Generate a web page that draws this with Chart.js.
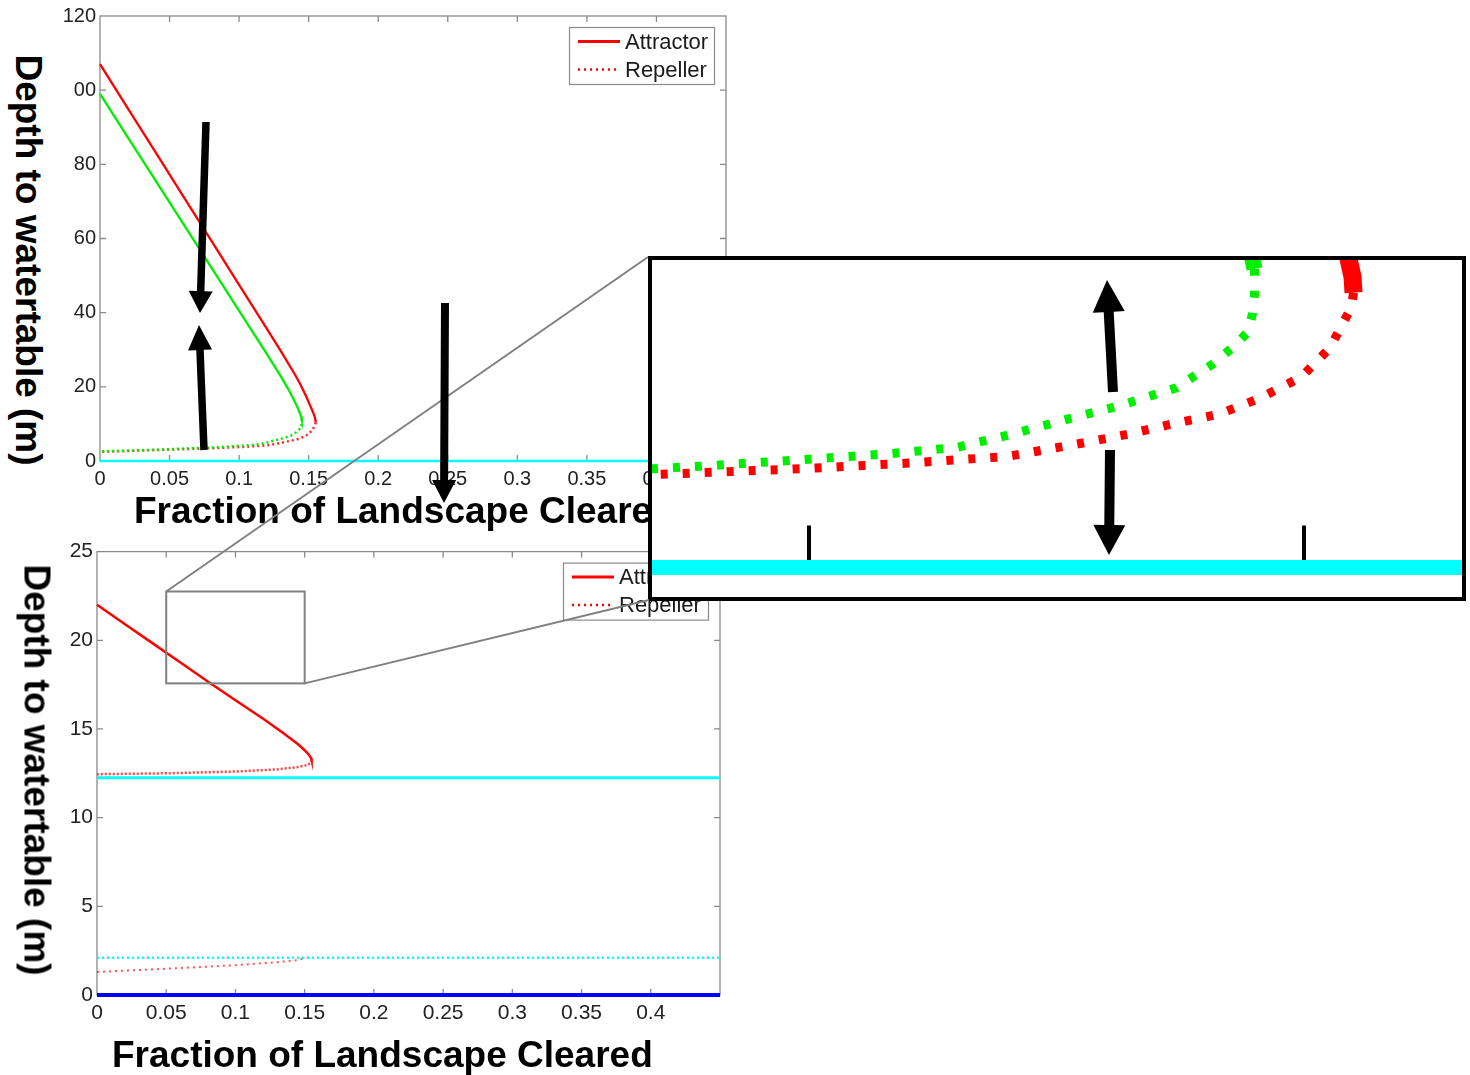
<!DOCTYPE html>
<html>
<head>
<meta charset="utf-8">
<script src="https://cdn.jsdelivr.net/npm/chart.js@4.4.1/dist/chart.umd.min.js"></script>
<style>
html,body{margin:0;padding:0;background:#fff;}
body{width:1470px;height:1075px;overflow:hidden;position:relative;font-family:"Liberation Sans",Arial,sans-serif;}
.abs{position:absolute;}
canvas{display:block;}
.title{font-weight:bold;font-size:37px;line-height:48px;white-space:nowrap;color:#000;}
.ytitle{line-height:37px;transform:translate(-50%,-50%) rotate(90deg);}
.mask{background:#fff;}
#inset{left:648px;top:256px;width:818px;height:345px;box-sizing:border-box;border:4px solid #000;background:#fff;z-index:9;}
</style>
</head>
<body>
<canvas id="topChart" class="abs" width="740" height="500" style="left:0;top:0;z-index:1"></canvas>
<div class="abs mask" style="left:0;top:45px;width:73px;height:425px;z-index:2"></div>
<div class="abs title ytitle" style="left:28px;top:260px;z-index:3">Depth to watertable (m)</div>
<div class="abs mask" style="left:88px;top:486px;width:640px;height:48px;z-index:2"></div>
<div class="abs title" style="left:134px;top:487px;z-index:3">Fraction of Landscape Cleared</div>

<canvas id="botChart" class="abs" width="740" height="500" style="left:0;top:535px;z-index:4"></canvas>
<div class="abs title ytitle" style="left:37px;top:770px;z-index:5">Depth to watertable (m)</div>
<div class="abs title" style="left:112px;top:1031px;z-index:5">Fraction of Landscape Cleared</div>

<div id="inset" class="abs"><canvas id="insetChart" width="810" height="337"></canvas></div>
<canvas id="overlay" class="abs" width="1470" height="1075" style="left:0;top:0;z-index:10;pointer-events:none"></canvas>

<script>
// ---------- tick labels / legend text ----------
const xTickLabels = ['0','0.05','0.1','0.15','0.2','0.25','0.3','0.35','0.4',''];
const topYTickLabels = ['0','20','40','60','80','100','120'];
const botYTickLabels = ['0','5','10','15','20','25'];
const legendLabels = ['Attractor','Repeller'];

// ---------- top panel data ----------
const topRedAttrX = [0, 0.02, 0.04, 0.06, 0.08, 0.10, 0.12, 0.13, 0.14, 0.144, 0.148, 0.151, 0.153, 0.1543, 0.1549, 0.155];
const topRedAttrY = [107, 95.1, 83.2, 71.3, 59.4, 47.5, 35.6, 29.6, 23.4, 20.7, 17.6, 15.0, 13.3, 12.0, 11.0, 10.4];
const topRedRepX = [0.155, 0.1548, 0.1526, 0.1497, 0.1455, 0.1414, 0.1369, 0.1323, 0.1275, 0.12, 0.11, 0.10, 0.08, 0.06, 0.04, 0.02, 0];
const topRedRepY = [10.4, 9.85, 8.3, 7.2, 6.4, 5.8, 5.45, 5.05, 4.7, 4.2, 3.95, 3.75, 3.45, 3.2, 2.95, 2.7, 2.5];
const topGreenAttrX = [0, 0.02, 0.04, 0.06, 0.08, 0.10, 0.12, 0.13, 0.135, 0.139, 0.1418, 0.1436, 0.1446, 0.145];
const topGreenAttrY = [99, 87.3, 75.6, 63.9, 52.2, 40.5, 28.8, 22.8, 19.6, 16.8, 14.6, 13.0, 12.0, 11.3];
const topGreenRepX = [0.145, 0.145, 0.1448, 0.1443, 0.143, 0.1408, 0.1371, 0.1312, 0.127, 0.12, 0.115, 0.108, 0.10, 0.09, 0.08, 0.06, 0.04, 0.02, 0];
const topGreenRepY = [11.3, 10.3, 9.6, 8.9, 8.4, 7.7, 6.8, 6.1, 5.7, 5.0, 4.55, 4.3, 4.1, 3.85, 3.65, 3.35, 3.05, 2.8, 2.6];
const fullX = [0, 0.45];
const topCyanY = [0, 0];

// ---------- bottom panel data ----------
const botRedAttrX = [0, 0.02, 0.04, 0.06, 0.08, 0.10, 0.12, 0.135, 0.145, 0.15, 0.153, 0.1547, 0.155];
const botRedAttrY = [22, 20.92, 19.84, 18.76, 17.68, 16.62, 15.58, 14.75, 14.15, 13.8, 13.55, 13.35, 13.25];
const botRedRepX = [0.155, 0.1545, 0.152, 0.145, 0.13, 0.10, 0.05, 0];
const botRedRepY = [13.25, 13.1, 12.97, 12.85, 12.72, 12.6, 12.5, 12.45];
const botCyanSolidY = [12.25, 12.25];
const botCyanDotY = [2.1, 2.1];
const botRedLowX = [0, 0.05, 0.10, 0.13, 0.145, 0.15];
const botRedLowY = [1.3, 1.48, 1.68, 1.85, 1.97, 2.08];
const botBlueY = [0, 0];

// zoom window (data units of the bottom panel) and inset view (data units of the top panel)
const zoomBoxX = [0.05, 0.15];
const zoomBoxY = [17.57, 22.75];
const insetXRange = [0.08414, 0.16596];
const insetYRange = [-1.116, 11.635];
const insetTickValues = [0.1, 0.15];

// ---------- helpers ----------
const zip = (xs, ys) => xs.map((x, i) => ({x: x, y: ys[i]}));
const FONT = '"Liberation Sans", Arial, sans-serif';
const RED = '#ff0000', GREEN = '#00ee00', CYAN = '#00ffff', BLUE = '#0000ff';

const frameTicks = {
  id: 'frameTicks',
  beforeDatasetsDraw(chart) {
    const {ctx, chartArea: a} = chart;
    const x = chart.scales.x, y = chart.scales.y;
    ctx.save();
    ctx.strokeStyle = '#8a8a8a';
    ctx.lineWidth = 1.3;
    ctx.strokeRect(a.left, a.top, a.right - a.left, a.bottom - a.top);
    const L = 6;
    ctx.beginPath();
    x.ticks.forEach(t => {
      const p = x.getPixelForValue(t.value);
      if (p <= a.left + 1 || p >= a.right - 1) return;
      ctx.moveTo(p, a.bottom); ctx.lineTo(p, a.bottom - L);
      ctx.moveTo(p, a.top); ctx.lineTo(p, a.top + L);
    });
    y.ticks.forEach(t => {
      const p = y.getPixelForValue(t.value);
      if (p <= a.top + 1 || p >= a.bottom - 1) return;
      ctx.moveTo(a.left, p); ctx.lineTo(a.left + L, p);
      ctx.moveTo(a.right, p); ctx.lineTo(a.right - L, p);
    });
    ctx.stroke();
    ctx.restore();
  }
};

const boxLegend = {
  id: 'boxLegend',
  afterDraw(chart) {
    const {ctx, chartArea: a} = chart;
    const w = 145, h = 57;
    const left = a.right - 12 - w, top = a.top + 11;
    ctx.save();
    ctx.fillStyle = '#fff';
    ctx.fillRect(left, top, w, h);
    ctx.strokeStyle = '#8a8a8a';
    ctx.lineWidth = 1.2;
    ctx.strokeRect(left + 0.5, top + 0.5, w, h);
    ctx.font = '22px ' + FONT;
    ctx.textBaseline = 'middle';
    ctx.fillStyle = '#1a1a1a';
    legendLabels.forEach((lab, i) => {
      const yy = top + 14.5 + i * 28;
      ctx.beginPath();
      ctx.strokeStyle = RED;
      ctx.lineWidth = i === 0 ? 3 : 2.5;
      ctx.setLineDash(i === 0 ? [] : [2, 4]);
      ctx.moveTo(left + 9, yy); ctx.lineTo(left + 51, yy);
      ctx.stroke();
      ctx.setLineDash([]);
      ctx.fillText(lab, left + 56, yy + 1);
    });
    ctx.restore();
  }
};

const zoomBox = {
  id: 'zoomBox',
  afterDatasetsDraw(chart) {
    const {ctx} = chart;
    const x = chart.scales.x, y = chart.scales.y;
    const x0 = x.getPixelForValue(zoomBoxX[0]), x1 = x.getPixelForValue(zoomBoxX[1]);
    const y0 = y.getPixelForValue(zoomBoxY[1]), y1 = y.getPixelForValue(zoomBoxY[0]);
    ctx.save();
    ctx.strokeStyle = '#808080';
    ctx.lineWidth = 2;
    ctx.strokeRect(x0, y0, x1 - x0, y1 - y0);
    ctx.restore();
  }
};

const insetTicks = {
  id: 'insetTicks',
  beforeDatasetsDraw(chart) {
    const {ctx} = chart;
    const x = chart.scales.x, y = chart.scales.y;
    const y0 = y.getPixelForValue(0);
    ctx.save();
    ctx.strokeStyle = '#000';
    ctx.lineWidth = 4;
    ctx.beginPath();
    insetTickValues.forEach(v => {
      const p = x.getPixelForValue(v);
      ctx.moveTo(p, y0); ctx.lineTo(p, y0 - 42);
    });
    ctx.stroke();
    ctx.restore();
  }
};

function ds(data, color, width, dash, clip) {
  return {data: data, borderColor: color, backgroundColor: color, borderWidth: width,
          borderDash: dash || [], pointRadius: 0, fill: false, tension: 0,
          clip: clip === undefined ? false : clip, borderCapStyle: 'butt'};
}

function panelOptions(p) {
  return {
    responsive: false, animation: false, devicePixelRatio: 1,
    layout: {autoPadding: false, padding: {top: p.padTop, right: p.padRight, left: 0, bottom: 0}},
    plugins: {legend: {display: false}, tooltip: {enabled: false}},
    scales: {
      x: {type: 'linear', min: 0, max: 0.45,
          grid: {display: false, drawTicks: false}, border: {display: false},
          ticks: {stepSize: 0.05, autoSkip: false, maxRotation: 0, padding: 6, color: '#222',
                  font: {family: FONT, size: p.fontSize},
                  callback: (v, i) => xTickLabels[i] !== undefined ? xTickLabels[i] : ''},
          afterFit: s => { s.height = p.xHeight; }},
      y: {type: 'linear', min: 0, max: p.yMax,
          grid: {display: false, drawTicks: false}, border: {display: false},
          ticks: {stepSize: p.yStep, autoSkip: false, padding: 4, color: '#222',
                  font: {family: FONT, size: p.fontSize},
                  callback: (v, i) => p.yLabels[i] !== undefined ? p.yLabels[i] : ''},
          afterFit: s => { s.width = p.yWidth; }}
    }
  };
}

// ---------- top chart ----------
const topChart = new Chart(document.getElementById('topChart'), {
  type: 'line',
  data: {datasets: [
    ds(zip(fullX, topCyanY), CYAN, 2.5),
    ds(zip(topGreenRepX, topGreenRepY), GREEN, 2.5, [2, 3]),
    ds(zip(topRedRepX, topRedRepY), 'rgba(255,0,0,0.85)', 2.5, [2, 3]),
    ds(zip(topGreenAttrX, topGreenAttrY), GREEN, 2.3),
    ds(zip(topRedAttrX, topRedAttrY), RED, 2.3)
  ]},
  options: panelOptions({padTop: 15, padRight: 14, yMax: 120, yStep: 20, yLabels: topYTickLabels,
                         yWidth: 100, xHeight: 39, fontSize: 20}),
  plugins: [frameTicks, boxLegend]
});

// ---------- bottom chart ----------
const botChart = new Chart(document.getElementById('botChart'), {
  type: 'line',
  data: {datasets: [
    ds(zip(fullX, botBlueY), BLUE, 4),
    ds(zip(fullX, botCyanDotY), CYAN, 2.5, [2, 3]),
    ds(zip(botRedLowX, botRedLowY), 'rgba(255,40,40,0.8)', 2, [2, 4]),
    ds(zip(fullX, botCyanSolidY), CYAN, 3),
    ds(zip(botRedRepX, botRedRepY), 'rgba(255,30,30,0.85)', 2.5, [2, 2]),
    ds(zip(botRedAttrX, botRedAttrY), RED, 2.5)
  ]},
  options: panelOptions({padTop: 16, padRight: 20, yMax: 25, yStep: 5, yLabels: botYTickLabels,
                         yWidth: 97, xHeight: 40, fontSize: 21}),
  plugins: [frameTicks, zoomBox, boxLegend]
});

// ---------- inset (magnified view of the top panel) ----------
const insetChart = new Chart(document.getElementById('insetChart'), {
  type: 'line',
  data: {datasets: [
    ds(zip(topGreenRepX, topGreenRepY), GREEN, 9, [7, 15], true),
    ds(zip(topRedRepX, topRedRepY), RED, 9, [7, 15], true),
    ds(zip(topGreenAttrX, topGreenAttrY), GREEN, 16, [], true),
    ds(zip(topRedAttrX, topRedAttrY), RED, 18, [], true),
    ds(zip(fullX, topCyanY), CYAN, 15, [], true)
  ]},
  options: {
    responsive: false, animation: false, devicePixelRatio: 1,
    layout: {autoPadding: false, padding: 0},
    plugins: {legend: {display: false}, tooltip: {enabled: false}},
    scales: {
      x: {type: 'linear', display: false, min: insetXRange[0], max: insetXRange[1]},
      y: {type: 'linear', display: false, min: insetYRange[0], max: insetYRange[1]}
    }
  },
  plugins: [insetTicks]
});

// ---------- overlay: connector lines and arrows ----------
(function () {
  const ov = document.getElementById('overlay');
  const ctx = ov.getContext('2d');
  const botTop = 535;
  const bx = botChart.scales.x, by = botChart.scales.y;
  const tl = {x: bx.getPixelForValue(zoomBoxX[0]), y: botTop + by.getPixelForValue(zoomBoxY[1])};
  const br = {x: bx.getPixelForValue(zoomBoxX[1]), y: botTop + by.getPixelForValue(zoomBoxY[0])};
  const r = document.getElementById('inset').getBoundingClientRect();
  ctx.strokeStyle = '#808080';
  ctx.lineWidth = 2;
  ctx.beginPath();
  ctx.moveTo(tl.x, tl.y); ctx.lineTo(r.left, r.top + 1);
  ctx.moveTo(br.x, br.y); ctx.lineTo(r.left + 1, r.bottom - 1);
  ctx.stroke();

  function arrow(x0, y0, x1, y1, sw, hw, hl) {
    const dx = x1 - x0, dy = y1 - y0, L = Math.hypot(dx, dy);
    const ux = dx / L, uy = dy / L, nx = -uy, ny = ux;
    const bxp = x1 - ux * hl, byp = y1 - uy * hl;
    ctx.beginPath();
    ctx.moveTo(x0 + nx * sw / 2, y0 + ny * sw / 2);
    ctx.lineTo(bxp + nx * sw / 2, byp + ny * sw / 2);
    ctx.lineTo(bxp + nx * hw / 2, byp + ny * hw / 2);
    ctx.lineTo(x1, y1);
    ctx.lineTo(bxp - nx * hw / 2, byp - ny * hw / 2);
    ctx.lineTo(bxp - nx * sw / 2, byp - ny * sw / 2);
    ctx.lineTo(x0 - nx * sw / 2, y0 - ny * sw / 2);
    ctx.closePath();
    ctx.fill();
  }
  ctx.fillStyle = '#000';
  arrow(206, 122, 200, 313, 7.5, 24, 22);
  arrow(204, 450, 199, 325, 7.5, 24, 25);
  arrow(445, 303, 444, 503, 8, 24, 23);
  arrow(1113, 392, 1107, 280, 10, 32, 32);
  arrow(1110, 450, 1109, 555, 10, 32, 30);
})();
</script>
</body>
</html>
